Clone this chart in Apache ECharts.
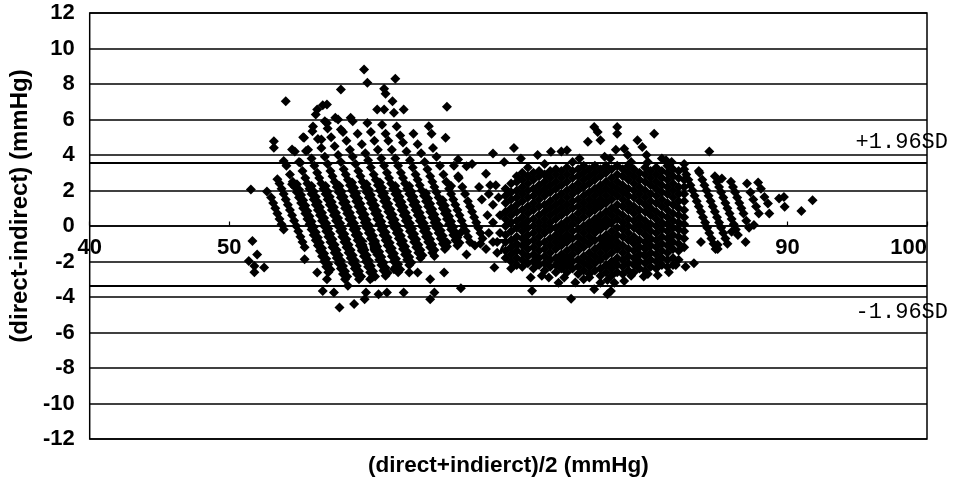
<!DOCTYPE html>
<html><head><meta charset="utf-8">
<script src="https://cdn.jsdelivr.net/npm/echarts@6/dist/echarts.min.js"></script>
<style>html,body{margin:0;padding:0;background:#fff}#c{width:953px;height:482px}</style>
</head><body><div id="c"></div>
<script>
// ---- data: [mean, difference] readings (mmHg) ----
const xTicks = [40, 50, 60, 70, 80, 90, 100];
const yTicks = [-12, -10, -8, -6, -4, -2, 0, 2, 4, 6, 8, 10, 12];
const upperLimit = 3.58;   // +1.96SD
const lowerLimit = -3.38;  // -1.96SD

const leftStripes = [
[53.9,-0.2],[53.75,0.1],[53.6,0.4],[53.45,0.7],[53.3,1.0],[53.15,1.3],[53.0,1.6],
[55.4,-1.2],[55.25,-0.9],[55.1,-0.6],[54.95,-0.3],[54.8,0],[54.65,0.3],[54.5,0.6],[54.35,0.9],[54.2,1.2],[54.05,1.5],[53.9,1.8],[53.75,2.1],[53.6,2.4],
[57.1,-2.6],[56.95,-2.3],[56.8,-2.0],[56.65,-1.7],[56.5,-1.4],[56.35,-1.1],[56.2,-0.8],[56.05,-0.5],[55.9,-0.2],[55.75,0.1],[55.6,0.4],[55.45,0.7],[55.3,1.0],[55.15,1.3],[55.0,1.6],[54.85,1.9],[54.7,2.2],[54.55,2.5],[54.35,2.9],[54.1,3.4],
[58.3,-3.0],[58.15,-2.7],[58.0,-2.4],[57.85,-2.1],[57.7,-1.8],[57.55,-1.5],[57.4,-1.2],[57.25,-0.9],[57.1,-0.6],[56.95,-0.3],[56.8,0],[56.65,0.3],[56.5,0.6],[56.35,0.9],[56.2,1.2],[56.05,1.5],[55.9,1.8],[55.75,2.1],[55.6,2.4],[55.45,2.7],[55.25,3.1],[55.0,3.6],[54.7,4.2],
[59.3,-3.0],[59.15,-2.7],[59.0,-2.4],[58.85,-2.1],[58.7,-1.8],[58.55,-1.5],[58.4,-1.2],[58.25,-0.9],[58.1,-0.6],[57.95,-0.3],[57.8,0],[57.65,0.3],[57.5,0.6],[57.35,0.9],[57.2,1.2],[57.05,1.5],[56.9,1.8],[56.75,2.1],[56.6,2.4],[56.45,2.7],[56.3,3.0],[56.1,3.4],[55.9,3.8],[55.65,4.3],[55.3,5.0],
[60.25,-2.9],[60.1,-2.6],[59.95,-2.3],[59.8,-2.0],[59.65,-1.7],[59.5,-1.4],[59.35,-1.1],[59.2,-0.8],[59.05,-0.5],[58.9,-0.2],[58.75,0.1],[58.6,0.4],[58.45,0.7],[58.3,1.0],[58.15,1.3],[58.0,1.6],[57.85,1.9],[57.7,2.2],[57.55,2.5],[57.4,2.8],[57.25,3.1],[57.05,3.5],[56.85,3.9],[56.6,4.4],[56.35,4.9],[56.0,5.6],
[61.2,-2.8],[61.05,-2.5],[60.9,-2.2],[60.75,-1.9],[60.6,-1.6],[60.45,-1.3],[60.3,-1.0],[60.15,-0.7],[60.0,-0.4],[59.85,-0.1],[59.7,0.2],[59.55,0.5],[59.4,0.8],[59.25,1.1],[59.1,1.4],[58.95,1.7],[58.8,2.0],[58.65,2.3],[58.5,2.6],[58.35,2.9],[58.2,3.2],[58.0,3.6],[57.8,4.0],[57.55,4.5],[57.3,5.0],[57.05,5.5],[56.85,5.9],
[62.1,-2.6],[61.95,-2.3],[61.8,-2.0],[61.65,-1.7],[61.5,-1.4],[61.35,-1.1],[61.2,-0.8],[61.05,-0.5],[60.9,-0.2],[60.75,0.1],[60.6,0.4],[60.45,0.7],[60.3,1.0],[60.15,1.3],[60.0,1.6],[59.85,1.9],[59.7,2.2],[59.55,2.5],[59.4,2.8],[59.25,3.1],[59.05,3.5],[58.85,3.9],[58.65,4.3],[58.4,4.8],[58.15,5.3],[57.8,6.0],
[62.9,-2.2],[62.75,-1.9],[62.6,-1.6],[62.45,-1.3],[62.3,-1.0],[62.15,-0.7],[62.0,-0.4],[61.85,-0.1],[61.7,0.2],[61.55,0.5],[61.4,0.8],[61.25,1.1],[61.1,1.4],[60.95,1.7],[60.8,2.0],[60.65,2.3],[60.5,2.6],[60.35,2.9],[60.15,3.3],[59.95,3.7],[59.75,4.1],[59.5,4.6],[59.2,5.2],[58.85,5.9],
[63.7,-1.8],[63.55,-1.5],[63.4,-1.2],[63.25,-0.9],[63.1,-0.6],[62.95,-0.3],[62.8,0],[62.65,0.3],[62.5,0.6],[62.35,0.9],[62.2,1.2],[62.05,1.5],[61.9,1.8],[61.75,2.1],[61.6,2.4],[61.45,2.7],[61.3,3.0],[61.1,3.4],[60.9,3.8],[60.65,4.3],[60.4,4.8],[60.15,5.3],[59.9,5.8],
[64.55,-1.5],[64.4,-1.2],[64.25,-0.9],[64.1,-0.6],[63.95,-0.3],[63.8,0],[63.65,0.3],[63.5,0.6],[63.35,0.9],[63.2,1.2],[63.05,1.5],[62.9,1.8],[62.75,2.1],[62.6,2.4],[62.45,2.7],[62.3,3.0],[62.1,3.4],[61.9,3.8],[61.65,4.3],[61.4,4.8],[61.2,5.2],[60.95,5.7],
[65.45,-1.3],[65.3,-1.0],[65.15,-0.7],[65.0,-0.4],[64.85,-0.1],[64.7,0.2],[64.55,0.5],[64.4,0.8],[64.25,1.1],[64.1,1.4],[63.95,1.7],[63.8,2.0],[63.65,2.3],[63.5,2.6],[63.35,2.9],[63.15,3.3],[62.95,3.7],[62.7,4.2],[62.45,4.7],[62.25,5.1],[62.0,5.6],
[66.35,-1.1],[66.2,-0.8],[66.05,-0.5],[65.9,-0.2],[65.75,0.1],[65.6,0.4],[65.45,0.7],[65.3,1.0],[65.15,1.3],[65.0,1.6],[64.85,1.9],[64.7,2.2],[64.55,2.5],[64.4,2.8],[64.2,3.2],[64.0,3.6],[63.75,4.1],[63.5,4.6],[63.2,5.2],
[67.25,-0.9],[67.1,-0.6],[66.95,-0.3],[66.8,0],[66.65,0.3],[66.5,0.6],[66.35,0.9],[66.2,1.2],[66.05,1.5],[65.9,1.8],[65.75,2.1],[65.55,2.5],[65.35,2.9],[65.1,3.4],[64.85,3.9],[64.6,4.4],
[68.15,-0.7],[68.0,-0.4],[67.85,-0.1],[67.7,0.2],[67.55,0.5],[67.4,0.8],[67.25,1.1],[67.1,1.4],[66.9,1.8],[66.7,2.2],[66.45,2.7],[66.1,3.4]
];

// second, adjacent readings filling the dense lower body of the left cluster
const leftStripesB = [
[57.25,-2.45],[57.1,-2.15],[56.95,-1.85],[56.8,-1.55],[56.65,-1.25],[56.5,-0.95],[56.35,-0.65],[56.2,-0.35],[56.05,-0.05],[55.9,0.25],[55.75,0.55],[55.6,0.85],[55.45,1.15],[55.3,1.45],[55.15,1.75],[55.0,2.05],[54.85,2.35],
[58.45,-2.85],[58.3,-2.55],[58.15,-2.25],[58.0,-1.95],[57.85,-1.65],[57.7,-1.35],[57.55,-1.05],[57.4,-0.75],[57.25,-0.45],[57.1,-0.15],[56.95,0.15],[56.8,0.45],[56.65,0.75],[56.5,1.05],[56.35,1.35],[56.2,1.65],[56.05,1.95],[55.9,2.25],
[59.45,-2.85],[59.3,-2.55],[59.15,-2.25],[59.0,-1.95],[58.85,-1.65],[58.7,-1.35],[58.55,-1.05],[58.4,-0.75],[58.25,-0.45],[58.1,-0.15],[57.95,0.15],[57.8,0.45],[57.65,0.75],[57.5,1.05],[57.35,1.35],[57.2,1.65],[57.05,1.95],[56.9,2.25],
[60.45,-2.85],[60.3,-2.55],[60.15,-2.25],[60.0,-1.95],[59.85,-1.65],[59.7,-1.35],[59.55,-1.05],[59.4,-0.75],[59.25,-0.45],[59.1,-0.15],[58.95,0.15],[58.8,0.45],[58.65,0.75],[58.5,1.05],[58.35,1.35],[58.2,1.65],[58.05,1.95],[57.9,2.25],
[61.35,-2.65],[61.2,-2.35],[61.05,-2.05],[60.9,-1.75],[60.75,-1.45],[60.6,-1.15],[60.45,-0.85],[60.3,-0.55],[60.15,-0.25],[60.0,0.05],[59.85,0.35],[59.7,0.65],[59.55,0.95],[59.4,1.25],[59.25,1.55],[59.1,1.85],[58.95,2.15],[58.8,2.45],
[62.25,-2.45],[62.1,-2.15],[61.95,-1.85],[61.8,-1.55],[61.65,-1.25],[61.5,-0.95],[61.35,-0.65],[61.2,-0.35],[61.05,-0.05],[60.9,0.25],[60.75,0.55],[60.6,0.85],[60.45,1.15],[60.3,1.45],[60.15,1.75],[60.0,2.05],[59.85,2.35],
[63.05,-2.05],[62.9,-1.75],[62.75,-1.45],[62.6,-1.15],[62.45,-0.85],[62.3,-0.55],[62.15,-0.25],[62.0,0.05],[61.85,0.35],[61.7,0.65],[61.55,0.95],[61.4,1.25],[61.25,1.55],[61.1,1.85],[60.95,2.15],[60.8,2.45],
[63.85,-1.65],[63.7,-1.35],[63.55,-1.05],[63.4,-0.75],[63.25,-0.45],[63.1,-0.15],[62.95,0.15],[62.8,0.45],[62.65,0.75],[62.5,1.05],[62.35,1.35],[62.2,1.65],[62.05,1.95],[61.9,2.25],
[64.7,-1.35],[64.55,-1.05],[64.4,-0.75],[64.25,-0.45],[64.1,-0.15],[63.95,0.15],[63.8,0.45],[63.65,0.75],[63.5,1.05],[63.35,1.35],[63.2,1.65],[63.05,1.95],[62.9,2.25],
[65.6,-1.15],[65.45,-0.85],[65.3,-0.55],[65.15,-0.25],[65.0,0.05],[64.85,0.35],[64.7,0.65],[64.55,0.95],[64.4,1.25],[64.25,1.55],[64.1,1.85],
[66.5,-0.95],[66.35,-0.65],[66.2,-0.35],[66.05,-0.05],[65.9,0.25],[65.75,0.55],[65.6,0.85],[65.45,1.15],[65.3,1.45]
];

const leftFringe = [
[51.55,2.06],[52.7,1.95],[51.66,-0.84],[52.0,-1.6],[51.4,-1.97],[51.8,-2.25],[52.5,-2.34],[51.8,-2.6],
[53.2,4.78],[53.2,4.41],[54.05,7.03],[53.9,3.66],[53.45,2.63],[54.5,2.35],[54.5,4.31],[55.1,3.57],[55.5,4.22],[55.36,4.97],[55.96,5.34],[56.2,6.28],[56.3,6.56],[56.7,6.8],[57.0,6.85],[57.0,5.8],[57.6,6.1],[58.7,6.1],[58.0,5.44],[58.0,7.69],[56.6,4.88],
[59.66,8.81],[59.9,8.07],[61.9,8.3],[61.1,7.73],[61.2,7.45],[61.7,7.03],[60.6,6.56],[61.1,6.56],[61.8,6.38],[62.5,6.56],[65.6,6.72],[65.5,4.97],[64.3,5.62],[64.5,5.2],[66.4,3.75],[67.0,3.37],[66.4,2.8],[65.9,2.25],
[65.6,-0.93],[66.6,-0.37],[64.7,-1.69],[65.4,-2.62],[64.4,-3.0],[63.5,-2.62],[62.9,-2.62],[61.8,-2.44],[61.3,-3.75],[62.5,-3.75],[64.7,-3.75],[64.4,-4.12],[59.8,-3.75],[60.7,-3.84],[58.95,-4.4],[59.7,-4.12],[60.1,-3.0],[57.9,-4.59],[56.7,-3.66],[57.5,-3.75],[58.5,-3.37],[56.3,-2.62],[57.0,-3.0],[55.4,-1.87],[66.6,-3.5]
];

const bridge = [
[68.6,1.8],[68.9,1.2],[68.5,0.6],[68.9,0.2],[68.6,-0.4],[68.9,-0.9],[68.4,-1.3],[69.2,-1.5],[69.3,1.6],[69.4,0.6],[69.4,-0.4],[69.1,2.3],[68.4,2.95],[68.7,2.3],[67.0,-1.6],[67.6,-1.1],[68.1,1.5],[69.2,-0.9],[67.9,2.2],[68.0,-1.0]
];

// dense core: [mean, diff, diff, ...] per column
const rightCoreCols = [
[69.8,-1.8,-1.4,-0.9,-0.5,0.0,0.4,0.8,1.3,1.7,2.1],
[70.2,-2.0,-1.6,-1.2,-0.8,-0.3,0.2,0.6,1.0,1.5,1.9,2.4],
[70.6,-2.2,-1.8,-1.4,-1.0,-0.6,-0.1,0.3,0.8,1.2,1.6,2.0,2.5,2.8],
[71.0,-2.3,-1.9,-1.5,-1.1,-0.7,-0.3,0.1,0.5,0.9,1.4,1.8,2.2,2.6,3.0],
[71.4,-2.1,-1.7,-1.3,-0.9,-0.5,-0.1,0.3,0.7,1.1,1.6,2.0,2.4,2.8],
[71.8,-2.4,-2.0,-1.6,-1.2,-0.8,-0.4,0.0,0.4,0.9,1.3,1.7,2.1,2.6,3.0],
[72.2,-2.2,-1.8,-1.4,-1.0,-0.6,-0.2,0.2,0.6,1.1,1.5,1.9,2.3,2.8,3.1],
[72.6,-2.5,-2.1,-1.7,-1.3,-0.9,-0.4,0.0,0.4,0.8,1.2,1.7,2.1,2.5,2.9],
[73.0,-2.3,-1.9,-1.5,-1.1,-0.7,-0.2,0.2,0.6,1.0,1.4,1.9,2.3,2.7,3.1],
[73.4,-2.6,-2.2,-1.8,-1.3,-0.9,-0.5,-0.1,0.4,0.8,1.2,1.6,2.1,2.5,2.9,3.2],
[73.8,-2.4,-2.0,-1.6,-1.1,-0.7,-0.3,0.1,0.6,1.0,1.4,1.8,2.3,2.7,3.1],
[74.2,-2.6,-2.2,-1.8,-1.4,-0.9,-0.5,-0.1,0.3,0.8,1.2,1.6,2.0,2.5,2.9,3.3],
[74.6,-2.4,-2.0,-1.6,-1.2,-0.7,-0.3,0.1,0.5,1.0,1.4,1.8,2.2,2.7,3.1],
[75.0,-2.7,-2.3,-1.9,-1.4,-1.0,-0.6,-0.2,0.3,0.7,1.1,1.5,2.0,2.4,2.8,3.2],
[75.4,-2.5,-2.1,-1.7,-1.2,-0.8,-0.4,0.0,0.5,0.9,1.3,1.7,2.2,2.6,3.0,3.4],
[75.8,-2.7,-2.3,-1.9,-1.5,-1.0,-0.6,-0.2,0.2,0.7,1.1,1.5,1.9,2.4,2.8,3.2],
[76.2,-2.5,-2.1,-1.7,-1.3,-0.8,-0.4,0.0,0.4,0.9,1.3,1.7,2.1,2.6,3.0,3.4],
[76.6,-2.8,-2.4,-1.9,-1.5,-1.1,-0.7,-0.2,0.2,0.6,1.1,1.5,1.9,2.3,2.8,3.2],
[77.0,-2.6,-2.2,-1.7,-1.3,-0.9,-0.5,0.0,0.4,0.8,1.3,1.7,2.1,2.5,3.0,3.4],
[77.4,-2.8,-2.4,-2.0,-1.5,-1.1,-0.7,-0.3,0.2,0.6,1.0,1.5,1.9,2.3,2.7,3.2],
[77.8,-2.6,-2.2,-1.8,-1.3,-0.9,-0.5,-0.1,0.4,0.8,1.2,1.7,2.1,2.5,2.9,3.4],
[78.2,-2.7,-2.3,-1.9,-1.5,-1.1,-0.6,-0.2,0.2,0.6,1.1,1.5,1.9,2.3,2.8,3.2],
[78.6,-2.5,-2.1,-1.7,-1.3,-0.8,-0.4,0.0,0.4,0.9,1.3,1.7,2.1,2.6,3.0,3.4],
[79.0,-2.6,-2.2,-1.8,-1.4,-1.0,-0.6,-0.1,0.3,0.7,1.1,1.6,2.0,2.4,2.8,3.2],
[79.4,-2.4,-2.0,-1.6,-1.2,-0.8,-0.3,0.1,0.5,0.9,1.4,1.8,2.2,2.6,3.0],
[79.8,-2.5,-2.1,-1.7,-1.3,-0.9,-0.5,-0.1,0.3,0.8,1.2,1.6,2.0,2.5,2.9,3.3],
[80.2,-2.3,-1.9,-1.5,-1.1,-0.7,-0.3,0.1,0.6,1.0,1.4,1.8,2.3,2.7,3.1],
[80.6,-2.4,-2.0,-1.6,-1.2,-0.8,-0.4,0.0,0.4,0.8,1.3,1.7,2.1,2.5,2.9,3.3],
[81.0,-2.2,-1.8,-1.4,-1.0,-0.6,-0.2,0.2,0.6,1.1,1.5,1.9,2.3,2.7,3.1],
[81.4,-2.3,-1.9,-1.5,-1.1,-0.7,-0.3,0.1,0.5,0.9,1.3,1.8,2.2,2.6,3.0,3.4],
[81.8,-2.2,-1.8,-1.3,-0.9,-0.5,-0.1,0.3,0.7,1.2,1.6,2.0,2.4,2.8,3.2],
[82.2,-1.9,-1.4,-1.0,-0.6,-0.2,0.2,0.6,1.0,1.4,1.8,2.2,2.7,3.1],
[82.6,-1.2,-0.7,-0.3,0.1,0.5,0.9,1.4,1.8,2.2,2.6]
];

const rightStripes = [
[84.85,-1.3],[84.7,-1.0],[84.55,-0.7],[84.4,-0.4],[84.25,-0.1],[84.1,0.2],[83.95,0.5],[83.8,0.8],[83.65,1.1],[83.5,1.4],[83.35,1.7],[83.2,2.0],[83.05,2.3],[82.9,2.6],[82.75,2.9],[82.6,3.2],
[85.7,-1.0],[85.55,-0.7],[85.4,-0.4],[85.25,-0.1],[85.1,0.2],[84.95,0.5],[84.8,0.8],[84.65,1.1],[84.5,1.4],[84.35,1.7],[84.2,2.0],[84.05,2.3],[83.9,2.6],[83.7,3.0],
[86.45,-0.5],[86.3,-0.2],[86.15,0.1],[86.0,0.4],[85.85,0.7],[85.7,1.0],[85.55,1.3],[85.4,1.6],[85.25,1.9],[85.1,2.2],[84.95,2.5],[84.8,2.8],
[87.25,-0.1],[87.05,0.3],[86.85,0.7],[86.7,1.0],[86.55,1.3],[86.4,1.6],[86.25,1.9],[86.1,2.2],[85.95,2.5],
[87.95,0.7],[87.75,1.1],[87.55,1.5],[87.35,1.9],[87.1,2.4]
];

const rightFringe = [
[88.1,2.1],[88.35,1.64],[88.6,1.27],[88.7,0.7],[89.4,1.55],[89.8,1.08],[89.75,1.64],[91.0,0.85],[91.8,1.45],[87.9,2.45],[87.6,0.05],[86.0,-0.33],[87.0,-0.9],[85.0,-1.05],[85.0,-1.3],[83.8,-0.9],[82.0,-2.2],[82.7,-2.3],[83.3,-2.1],[84.4,4.2],[81.3,3.7],[82.6,3.5],[83.65,3.1],[85.3,2.67],
[76.15,5.58],[76.4,5.3],[77.8,5.58],[77.8,5.2],[75.7,4.74],[76.6,4.83],[80.45,5.2],[79.25,4.83],[79.6,4.45],[77.7,4.3],[74.2,4.27],[73.05,4.19],[73.8,4.2],[72.1,4.0],[70.9,3.8],[70.4,4.4],[69.7,3.6],[68.9,4.08],[67.4,3.5],[78.3,4.35],[78.55,4.0],[78.8,3.6],[79.9,4.0],[80.0,3.6],[76.9,3.9],[75.1,3.8],[74.6,3.6],[72.6,3.5],[71.4,3.3],[81.0,3.8],[77.3,3.8],[81.7,3.6],
[69.0,-2.34],[70.2,-2.4],[71.6,-2.9],[71.7,-3.65],[74.5,-4.1],[77.1,-3.84],[75.4,-3.0],[77.6,-3.2],[78.8,-2.8],[80.0,-2.7],[74.8,-3.18],[76.15,-3.56],[77.35,-3.66],[79.7,-2.85],[80.7,-2.77],[77.1,-3.04],[75.8,-2.9],[72.9,-2.9],[73.6,-3.2],[74.0,-2.9],[76.6,-3.2],[78.3,-3.1],[81.5,-2.6],[72.4,-2.8]
];

// ---- build ----
const points = [].concat(leftStripes, leftStripesB, leftFringe, bridge, rightStripes, rightFringe);
rightCoreCols.forEach(function (col) {
  for (let i = 1; i < col.length; i++) points.push([col[0], col[i]]);
});

const SANS = '"Liberation Sans", Arial, sans-serif';
const GRID_TOP = 13, GRID_BOTTOM = 42, H = 482;
const plotH = H - GRID_TOP - GRID_BOTTOM;
// x axis drawn across the y = 0 line (middle of the symmetric y range)
const zeroOffset = -plotH * (0 - yTicks[0]) / (yTicks[yTicks.length - 1] - yTicks[0]);

const chart = echarts.init(document.getElementById('c'), null, { renderer: 'canvas' });
chart.setOption({
  animation: false,
  backgroundColor: '#fff',
  grid: { left: 89, right: 26, top: GRID_TOP, bottom: GRID_BOTTOM, show: true, borderColor: '#000', borderWidth: 1.5, backgroundColor: 'rgba(0,0,0,0)' },
  xAxis: [{
    type: 'value', position: 'bottom', offset: zeroOffset,
    min: xTicks[0], max: xTicks[xTicks.length - 1], interval: 10,
    axisLine: { onZero: false, lineStyle: { color: '#000', width: 1.5 } },
    axisTick: { inside: true, length: 4, lineStyle: { color: '#000', width: 1.2 } },
    axisLabel: { color: '#000', fontSize: 22, fontWeight: 'bold', fontFamily: SANS, margin: 11, alignMaxLabel: 'right' },
    splitLine: { show: false }
  }, {
    type: 'value', position: 'bottom', min: xTicks[0], max: xTicks[xTicks.length - 1],
    axisLine: { show: false, onZero: false }, axisTick: { show: false }, axisLabel: { show: false }, splitLine: { show: false },
    name: '(direct+indierct)/2 (mmHg)', nameLocation: 'middle', nameGap: 15,
    nameTextStyle: { color: '#000', fontSize: 22.5, fontWeight: 'bold', fontFamily: SANS }
  }],
  yAxis: {
    type: 'value', min: yTicks[0], max: yTicks[yTicks.length - 1], interval: 2,
    axisLine: { show: false }, axisTick: { show: false },
    axisLabel: { color: '#000', fontSize: 22, fontWeight: 'bold', fontFamily: SANS, margin: 15 },
    splitLine: { lineStyle: { color: '#000', width: 1.5 } },
    name: '(direct-indirect) (mmHg)', nameLocation: 'middle', nameRotate: 90, nameGap: 50,
    nameTextStyle: { color: '#000', fontSize: 24, fontWeight: 'bold', fontFamily: SANS, padding: [0, 0, 0, 40] }
  },
  series: [{
    type: 'scatter', data: points, symbol: 'diamond', symbolSize: 10,
    itemStyle: { color: '#000', opacity: 1 }, silent: true,
    markLine: {
      silent: true, symbol: 'none', animation: false,
      lineStyle: { color: '#000', width: 2, type: 'solid', opacity: 1 },
      label: { color: '#000', fontSize: 22, fontFamily: '"Liberation Mono", monospace' },
      data: [
        { yAxis: upperLimit, label: { formatter: '+1.96SD', position: 'insideEndTop', offset: [26, -4] } },
        { yAxis: lowerLimit, label: { formatter: '-1.96SD', position: 'insideEndBottom', offset: [26, 10] } }
      ]
    }
  }]
});
</script>
</body></html>
